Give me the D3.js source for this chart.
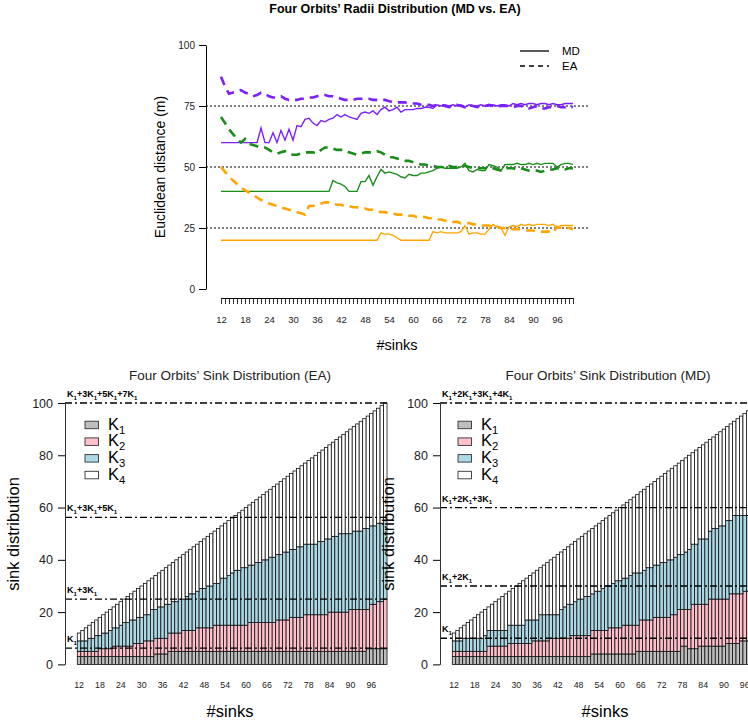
<!DOCTYPE html>
<html>
<head>
<meta charset="utf-8">
<script src="https://cdnjs.cloudflare.com/ajax/libs/d3/7.8.5/d3.min.js"></script>
<style>
body { margin:0; background:#fff; }
svg { font-family: "Liberation Sans", Arial, Helvetica, sans-serif; }
</style>
</head>
<body>
<div id="chart-area"></div>
<script>

// DATA ---------------------------------------------------------

var sinks = [12,13,14,15,16,17,18,19,20,21, 22,23,24,25,26,27,28,29,30,31,
	32,33,34,35,36,37,38,39,40,41, 42,43,44,45,46,47,48,49,50,51,
	52,53,54,55,56,57,58,59,60,61, 62,63,64,65,66,67,68,69,70,71,
	72,73,74,75,76,77,78,79,80,81, 82,83,84,85,86,87,88,89,90,91,
	92,93,94,95,96,97,98,99,100];
var sinkLabels = [12,18,24,30,36,42,48,54,60,66,72,78,84,90,96];
var radiusTicks = [0,25,50,75,100];
var radiusRefs = [25,50,75];
var countTicks = [0,20,40,60,80,100];

// radii (m), one value per sink count
var mdOuter = [60,60,60,60,60,60,60,60,60,60, 66,60,60,64,60,65,61,65.5,61,67,
	66.5,69.5,70,68,67,69,68.5,69.5,70,71.5, 70.5,71.5,70.5,70,69.5,72,72.5,72,73,71.5,
	73.5,74.5,73,73.5,74.5,72.5,73.5,73.5,73.5,74, 74,74.5,74.5,74,75.5,75,75.5,75,75.5,75,
	75.5,74.5,75.5,75,75,75.5,75,75,75.5,75, 75.5,75.5,75,76,75.5,76,75.5,76,76,75.5,
	76,76,75.5,76,75.5,75.5,76,76,76];
var eaOuter = [87,83,80,80.5,81,81.5,80.5,80,79,79.5, 80.5,80,79,78.5,78.5,79,78,77.5,77.5,77.5,
	78,78,78.5,78.5,79,79.5,79.5,79,79,78.5, 78,77.5,77.5,77.5,78,78,78,78,77.5,77.5,
	77.5,77.5,77,76.5,76.5,76.5,76.5,76,76,76, 75.5,75.5,75.5,75,75.5,75.5,75,74.5,75,75.5,
	75,74.5,75.5,75,74.5,75,75,75.5,75,74.5, 75,75,75,74.5,75,75,74.5,74,74.5,75,
	74,74,74.5,74.5,75,74.5,74.5,75,74.5];
var mdMiddle = [40,40,40,40,40,40,40,40,40,40, 40,40,40,40,40,40,40,40,40,40,
	40,40,40,40,40,40,40,40,44.5,43.5, 43,42,40,40,40,44,44,46.5,42.5,46,
	49,47.5,48,47.5,47,46,45.5,47,46.5,46.5, 47.5,47.5,48,48.5,49.5,50,49.5,49.5,49.5,49.5,
	50,51.5,48.5,48,49,48.5,48.5,51,50.5,50, 48.5,51,51,51,51.5,51,51,51.5,51,51.5,
	51,51.5,51.5,51.5,50,51,51.5,51.5,51];
var eaMiddle = [70.5,68,65.5,63.5,61.5,60,61.5,59.5,59,58.5, 58,58,57,56,55.5,56,56.5,55.5,55,55,
	55.5,56,56,56,55.5,57,58,58,57.5,57, 57,57,56,55.5,55,55.5,56,56,56,56.5,
	56,55,54,54,53.5,53,52.5,52.5,52,51.5, 51,51,50.5,50.5,50,50,50,50.5,50,50,
	50,50.5,50,49.5,49.5,49.5,49.5,50,49.5,49, 48.5,49.5,49.5,49.5,49,49.5,49,48.5,48.5,48.5,
	48,48.5,49,49,49.5,49.5,49,49.5,49.5];
var mdInner = [20,20,20,20,20,20,20,20,20,20, 20,20,20,20,20,20,20,20,20,20,
	20,20,20,20,20,20,20,20,20,20, 20,20,20,20,20,20,20,20,20,20,
	23,22.5,22.5,22,21,20,20,20,20,20, 20,20,20,23.5,23,23.5,23,23,23,23,
	23.5,26,22.5,23,23,22.5,22.5,24.5,26.5,25.5, 25,22,25.5,26,25.5,26.5,26,26.5,26,26.5,
	26.5,26.5,26,26.5,25,26,26,26,26];
var eaInner = [50,48,46,44.5,43,41.5,40.5,39.5,38.5,37.5, 36.5,36,35,34.5,34,33.5,33,32.5,32,31.5,
	31,30.5,34,34,34.5,35,35.5,35.5,35,34.5, 34.5,34,34,33.5,33.5,33,33,32.5,32.5,32,
	31.5,31.5,31,31,30.5,30.5,30.5,30,30,29.5, 29.5,29.5,29,29,28.5,28.5,28,28,27.5,27.5,
	27,27,27,26.5,26.5,26,26,26,25.5,25.5, 25,25,25,24.5,24.5,24.5,24,24,24,23.5,
	23.5,23.5,23.5,23,25.5,25,25,25,24.5];

// sink counts, cumulative top of K1, K1+K2, K1+K2+K3 (K4 fills up to #sinks)
var eaTopK1 = [3,3,3,3,3,3,3,3,3,3, 3,3,3,3,3,3,3,3,3,3,
	3,3,4,4,4,4,5,5,5,5, 5,5,5,5,5,5,5,5,5,5,
	5,5,5,5,5,5,5,5,5,5, 5,5,5,5,5,5,5,5,5,5,
	5,5,5,5,5,5,5,5,5,5, 5,5,5,5,5,5,5,5,5,5,
	5,5,5,6,6,6,6,6,6];
var eaTopK2 = [5,5,5,5,5,5,6,6,6,6, 7,7,7,7,7,7,8,8,8,9,
	9,9,10,10,10,10,12,12,12,12, 13,13,13,13,14,14,14,14,14,15,
	15,15,15,15,15,15,15,15,15,16, 16,16,16,16,16,16,16,17,17,17,
	17,18,18,18,18,19,19,19,19,19, 19,19,20,20,20,20,20,20,21,21,
	21,21,21,21,23,23,24,24,25];
var eaTopK3 = [9,9,9,10,10,11,11,12,12,13, 14,14,15,16,16,17,17,18,18,19,
	19,21,21,22,22,23,23,24,24,25, 25,26,27,27,28,29,29,30,30,31,
	31,33,33,34,35,36,36,37,37,38, 38,39,39,40,40,41,41,42,42,43,
	43,44,44,45,45,46,46,46,46,47, 47,48,48,49,49,50,50,50,50,51,
	51,51,52,52,53,53,54,54,55];
var mdTopK1 = [3,3,3,3,3,3,3,3,3,3, 3,3,3,3,3,3,3,3,3,3,
	3,3,3,3,3,3,3,3,3,3, 3,3,3,3,3,3,3,3,3,3,
	4,4,4,4,4,4,4,4,4,4, 4,4,4,5,5,5,5,5,5,5,
	5,5,5,5,5,5,7,7,6,6, 6,7,7,7,7,7,7,7,7,8,
	8,8,8,9,9,9,9,9,9];
var mdTopK2 = [5,5,5,5,5,5,5,5,5,5, 7,7,7,7,7,7,8,8,8,8,
	8,8,8,9,9,9,9,9,10,10, 10,10,10,10,11,11,11,11,11,11,
	13,13,13,13,13,14,14,14,14,15, 15,15,15,15,17,17,17,17,18,18,
	18,18,18,19,19,21,21,21,21,23, 23,23,23,23,25,25,25,25,25,25,
	27,27,27,27,28,28,28,28,28];
var mdTopK3 = [9,9,9,10,10,10,10,10,10,11, 13,13,13,13,13,13,15,15,15,15,
	15,17,17,17,17,19,19,19,19,19, 19,21,22,23,23,24,25,25,26,26,
	27,28,28,29,30,30,31,32,32,33, 33,34,35,35,35,36,37,37,38,38,
	39,39,40,40,41,42,42,43,44,46, 46,48,48,48,51,52,52,53,53,55,
	55,57,57,57,57,57,57,57,57];

// reference levels and their labels (coefficients of K1)
var eaLevels = [6.25, 25, 56.25, 100];
var eaCoefs = ["", "3", "5", "7"];
var mdLevels = [10, 30, 60, 100];
var mdCoefs = ["", "2", "3", "4"];
var orbitNames = ["1", "2", "3", "4"];

var lineColors = ["#7B1FFF", "#1A8C1A", "#FFA500"];
var orbitColors = ["#BEBEBE", "#FFC0CB", "#ADD8E6", "#FFFFFF"];
var fontFamily = "Liberation Sans, Arial, Helvetica, sans-serif";


// SVG -------------------------------------------------------------

var svg = d3.select("#chart-area").append("svg")
	.attr("width", 748)
	.attr("height", 728);


// helper: text with subscripts, pieces = [[main, sub], ...]
function subText(g, x, y, pieces, size, weight, shiftRatio) {
	var t = g.append("text")
		.attr("x", x)
		.attr("y", y)
		.attr("font-size", size)
		.attr("font-weight", weight || "normal");
	var shift = size * (shiftRatio || 0.3);
	pieces.forEach((p, i) => {
		t.append("tspan").attr("dy", i == 0 ? 0 : -shift).text(p[0]);
		t.append("tspan").attr("font-size", size * 0.68).attr("dy", shift).text(p[1]);
	});
	return t;
}


// TOP CHART: RADII --------------------------------------------------

var topGroup = svg.append("g").attr("name", "Radii");
var xTop = d3.scaleLinear().domain([12, 100]).range([221, 573]);
var yTop = d3.scaleLinear().domain([0, 100]).range([289, 45]);

topGroup.append("text")
	.attr("x", 395)
	.attr("y", 13)
	.attr("font-size", "12.5px")
	.attr("font-weight", "bold")
	.attr("text-anchor", "middle")
	.text("Four Orbits\u2019 Radii Distribution (MD vs. EA)");

var yTopAxis = topGroup.append("g")
	.attr("transform", "translate(206,0)")
	.call(d3.axisLeft(yTop).tickValues(radiusTicks).tickSize(7).tickPadding(4).tickSizeOuter(0));
yTopAxis.attr("font-family", fontFamily).attr("font-size", "10px");
yTopAxis.selectAll("text").attr("fill", "#222");

var xTopAxis = topGroup.append("g")
	.attr("transform", "translate(0,298)")
	.call(d3.axisBottom(xTop).tickValues(sinks).tickSize(6).tickPadding(12).tickSizeOuter(0)
		.tickFormat(d => sinkLabels.indexOf(d) >= 0 ? d : ""));
xTopAxis.attr("font-family", fontFamily).attr("font-size", "9.5px");
xTopAxis.selectAll("text").attr("fill", "#222");
xTopAxis.selectAll("line").attr("stroke-width", 0.8);

topGroup.append("text")
	.attr("x", 397)
	.attr("y", 350)
	.attr("font-size", "14.5px")
	.attr("text-anchor", "middle")
	.text("#sinks");

topGroup.append("text")
	.attr("transform", "translate(165,167) rotate(-90)")
	.attr("font-size", "14px")
	.attr("text-anchor", "middle")
	.text("Euclidean distance (m)");

// reference lines
topGroup.selectAll(".ref").data(radiusRefs).enter().append("line")
	.attr("x1", 206).attr("x2", 590)
	.attr("y1", d => yTop(d)).attr("y2", d => yTop(d))
	.attr("stroke", "#000")
	.attr("stroke-width", 1)
	.attr("stroke-dasharray", "2,2");

var radiusLine = d3.line()
	.x((d, i) => xTop(sinks[i]))
	.y(d => yTop(d));

var series = [
	{ values: mdOuter, color: lineColors[0], dashed: false },
	{ values: eaOuter, color: lineColors[0], dashed: true },
	{ values: mdMiddle, color: lineColors[1], dashed: false },
	{ values: eaMiddle, color: lineColors[1], dashed: true },
	{ values: mdInner, color: lineColors[2], dashed: false },
	{ values: eaInner, color: lineColors[2], dashed: true }
];
series.forEach(s => {
	topGroup.append("path")
		.attr("d", radiusLine(s.values))
		.attr("fill", "none")
		.attr("stroke", s.color)
		.attr("stroke-width", s.dashed ? 2.6 : 1.4)
		.attr("stroke-dasharray", s.dashed ? "9,6" : null);
});

// legend
[["MD", null, 51], ["EA", "5,4", 66]].forEach(l => {
	topGroup.append("line")
		.attr("x1", 520).attr("x2", 549)
		.attr("y1", l[2]).attr("y2", l[2])
		.attr("stroke", "#000")
		.attr("stroke-width", 1.3)
		.attr("stroke-dasharray", l[1]);
	topGroup.append("text")
		.attr("x", 562)
		.attr("y", l[2] + 4)
		.attr("font-size", "11.5px")
		.text(l[0]);
});


// BOTTOM CHARTS: SINKS ------------------------------------------------

function sinkChart(opt) {
	var g = svg.append("g").attr("name", opt.title);
	var xb = d3.scaleBand().domain(sinks).range([opt.barStart, opt.barStart + sinks.length * opt.barStep]).padding(0);
	var yb = d3.scaleLinear().domain([0, 100]).range([664.4, 403]);

	g.append("text")
		.attr("x", opt.titleX)
		.attr("y", 380)
		.attr("font-size", "13.5px")
		.attr("text-anchor", "middle")
		.attr("fill", "#222")
		.text(opt.title);

	// stacked bars
	var layers = [opt.tops[0], opt.tops[1], opt.tops[2], sinks];
	layers.forEach((layer, k) => {
		g.selectAll(".layer" + k).data(sinks).enter().append("rect")
			.attr("class", "layer" + k)
			.attr("x", d => xb(d))
			.attr("width", xb.bandwidth())
			.attr("y", (d, i) => yb(layer[i]))
			.attr("height", (d, i) => yb(k == 0 ? 0 : layers[k - 1][i]) - yb(layer[i]))
			.attr("fill", orbitColors[k])
			.attr("stroke", "#111")
			.attr("stroke-width", 0.8);
	});

	// level lines
	g.selectAll(".level").data(opt.levels).enter().append("line")
		.attr("x1", opt.axisX).attr("x2", opt.lineEnd)
		.attr("y1", d => yb(d)).attr("y2", d => yb(d))
		.attr("stroke", "#000")
		.attr("stroke-width", 1.3)
		.attr("stroke-dasharray", "7,3,2,3");
	opt.levels.forEach((lv, i) => {
		var pieces = opt.coefs.slice(0, i + 1).map((c, j) => [(j > 0 ? "+" : "") + c + "K", "1"]);
		subText(g, opt.axisX + 2, yb(lv) - 6, pieces, 9, "bold");
	});

	// y axis
	var ya = g.append("g")
		.attr("transform", "translate(" + opt.axisX + ",0)")
		.call(d3.axisLeft(yb).tickValues(countTicks).tickSize(7).tickPadding(5).tickSizeOuter(0));
	ya.attr("font-family", fontFamily).attr("font-size", "12.5px");
	ya.selectAll("text").attr("fill", "#222");
	ya.select(".domain").attr("stroke", "#333");

	g.append("text")
		.attr("transform", "translate(" + (opt.axisX - 46) + ",534) rotate(-90)")
		.attr("font-size", "16.5px")
		.attr("text-anchor", "middle")
		.text("sink distribution");

	// x labels
	var xa = g.append("g")
		.attr("transform", "translate(0,682)")
		.call(d3.axisBottom(xb).tickValues(sinkLabels).tickSize(0).tickPadding(0));
	xa.attr("font-family", fontFamily).attr("font-size", "8.8px");
	xa.select(".domain").remove();
	xa.selectAll("text").attr("fill", "#222");

	g.append("text")
		.attr("x", opt.xTitleX)
		.attr("y", 717)
		.attr("font-size", "16.5px")
		.attr("text-anchor", "middle")
		.text("#sinks");

	// legend
	orbitNames.forEach((name, k) => {
		var cy = 424.7 + k * 16.7;
		g.append("rect")
			.attr("x", opt.legendX)
			.attr("y", cy - 3.5)
			.attr("width", 13.5)
			.attr("height", 7.5)
			.attr("fill", orbitColors[k])
			.attr("stroke", "#333")
			.attr("stroke-width", 0.9);
		subText(g, opt.legendX + 23, cy + 5, [["K", name]], 16.5, "normal", 0.24);
	});
}

sinkChart({
	title: "Four Orbits\u2019 Sink Distribution (EA)",
	titleX: 230, xTitleX: 230,
	axisX: 65, barStart: 77.3, barStep: 3.48, lineEnd: 387,
	legendX: 85,
	tops: [eaTopK1, eaTopK2, eaTopK3],
	levels: eaLevels, coefs: eaCoefs
});

sinkChart({
	title: "Four Orbits\u2019 Sink Distribution (MD)",
	titleX: 608, xTitleX: 605,
	axisX: 440, barStart: 452.3, barStep: 3.46, lineEnd: 760,
	legendX: 458,
	tops: [mdTopK1, mdTopK2, mdTopK3],
	levels: mdLevels, coefs: mdCoefs
});

</script>
</body>
</html>
